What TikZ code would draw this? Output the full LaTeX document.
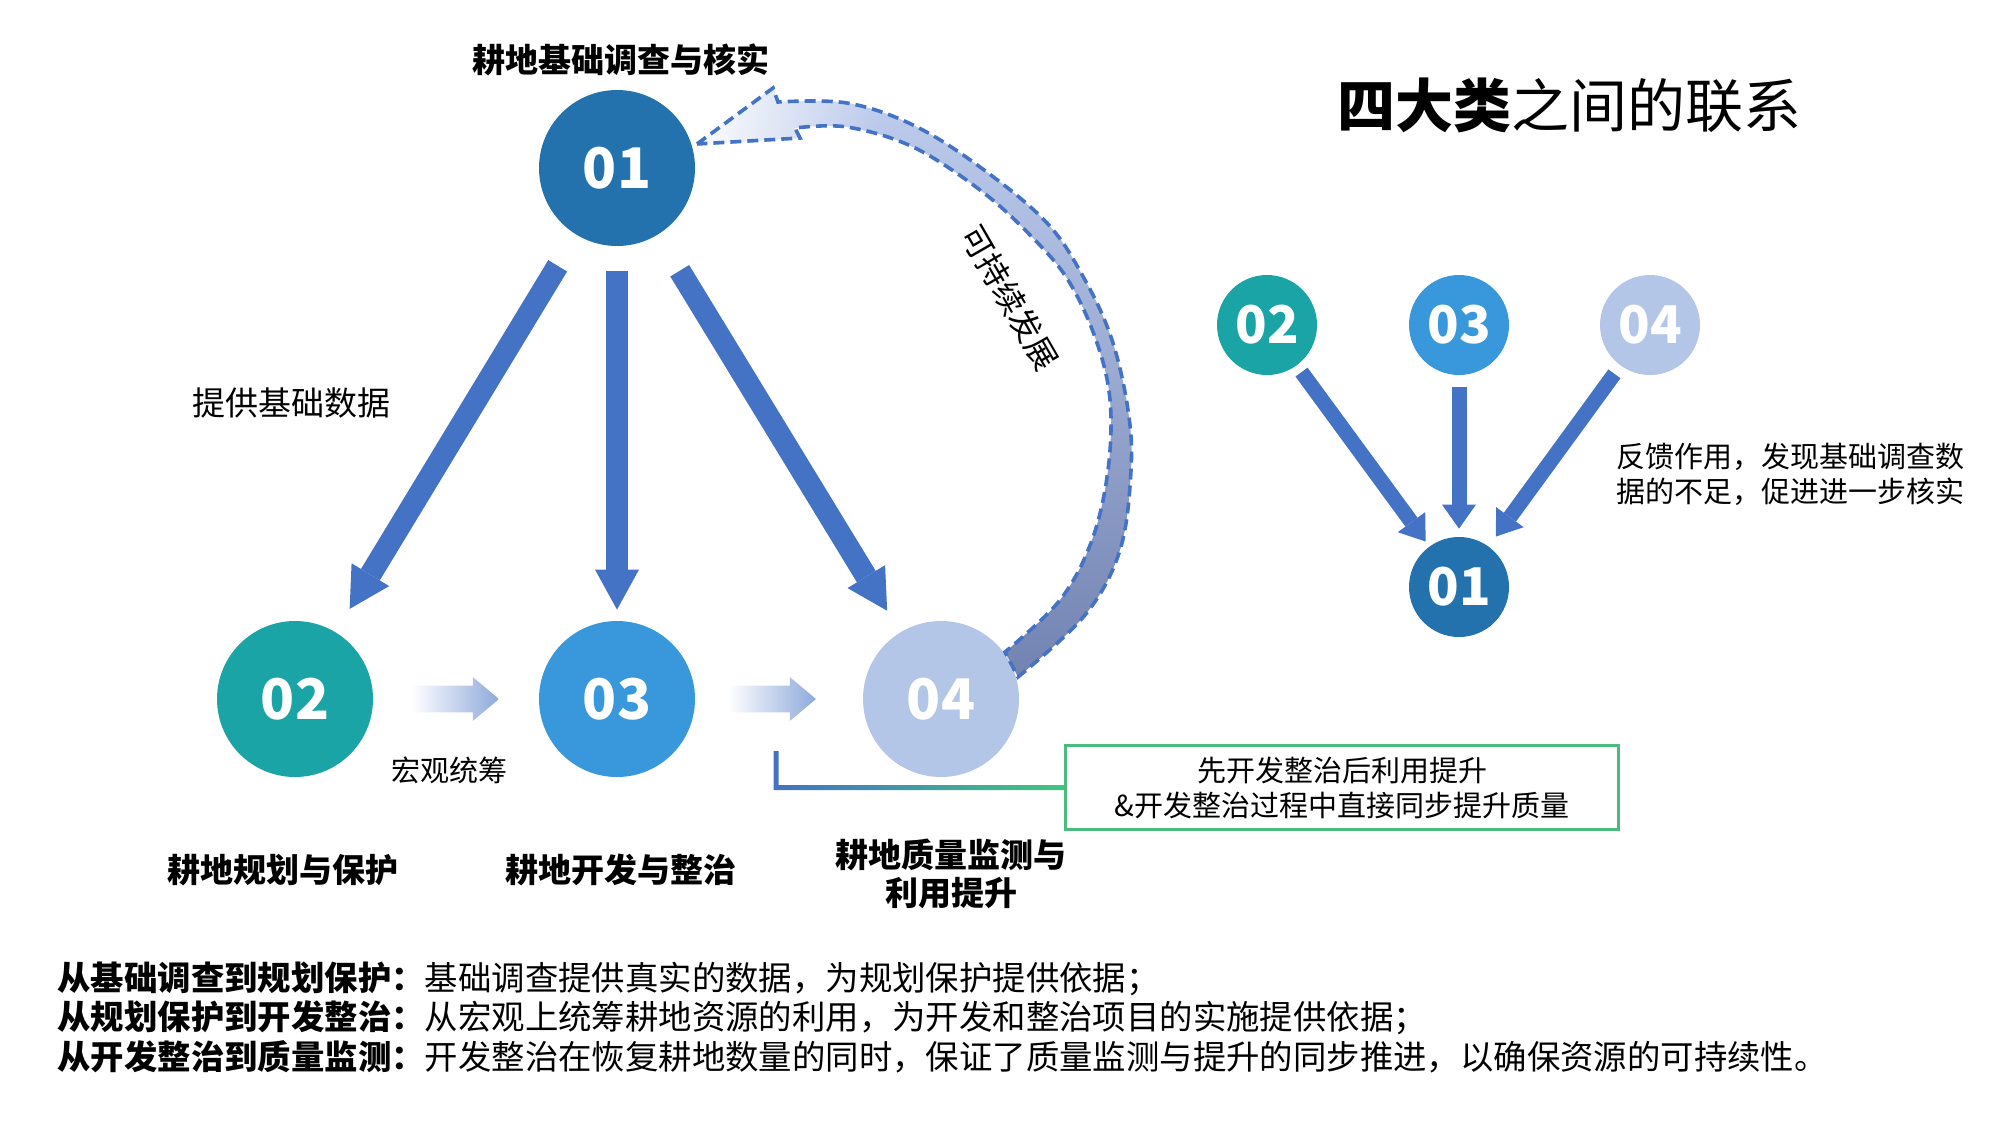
\documentclass[tikz,border=0pt]{standalone}
\usepackage{fontspec}
\setmainfont{Noto Sans CJK SC}
\usetikzlibrary{arrows.meta,positioning,calc,shapes.arrows,fadings}

\definecolor{cOne}{HTML}{2372AD}
\definecolor{cTwo}{HTML}{1BA4A5}
\definecolor{cThree}{HTML}{3898DB}
\definecolor{cFour}{HTML}{B4C6E7}
\definecolor{arrowblue}{HTML}{4472C4}
\definecolor{flowblue}{HTML}{8EA9DB}
\definecolor{notegreen}{HTML}{4DBA7F}
\definecolor{linkgreen}{HTML}{3FC681}
\definecolor{bandtop}{HTML}{BFCEEE}
\definecolor{bandmid}{HTML}{A2B5E0}
\definecolor{bandlow}{HTML}{7283B2}

% outline of the curved band from 04 back to 01
\newcommand{\bandoutline}{(697,144) -- (773,88) -- plot[smooth,tension=0.6]
    coordinates {(778,102) (847,103) (913,125) (980,167) (1047,223) (1085,280)
    (1112,340) (1128,410) (1131,470) (1120,550) (1085,615) (1018,677)}
    -- plot[smooth,tension=0.6] coordinates {(1005,652) (1060,600) (1092,540)
    (1108,470) (1110,400) (1096,340) (1068,280) (1030,235) (980,190) (913,147)
    (847,127) (795,128)} -- (800,138) -- cycle}

\begin{document}
\begin{tikzpicture}[x=0.5pt,y=-0.5pt,
    num/.style={circle,inner sep=0pt,minimum size=78pt,text=white,
        font=\bfseries\fontsize{28}{30}\selectfont},
    mininum/.style={circle,inner sep=0pt,minimum size=50pt,text=white,
        font=\bfseries\fontsize{26}{28}\selectfont},
    bigarrow/.style={draw=arrowblue,line width=11pt,
        -{Triangle[length=20pt,width=22pt,line width=0pt]}},
    smallarrow/.style={draw=arrowblue,line width=7.5pt,
        -{Triangle[length=12pt,width=17pt,line width=0pt]}},
    flowarrow/.style={single arrow,inner xsep=0pt,inner ysep=6.5pt,
        minimum height=44pt,single arrow head extend=4.25pt,
        single arrow tip angle=80,left color=white,right color=flowblue},
    caption/.style={font=\bfseries\fontsize{16.5}{19}\selectfont,align=center},
    plain/.style={font=\fontsize{14.5}{17.5}\selectfont}]
    \useasboundingbox (0,0) rectangle (2000,1124);

    % main circles
    \node[num,fill=cOne] (c01) at (617,168) {01};
    \node[num,fill=cTwo] (c02) at (295,699) {02};
    \node[num,fill=cThree] (c03) at (617,699) {03};
    \node[num,fill=cFour] (c04) at (941,699) {04};

    \node[caption] (t01) at (621,60) {耕地基础调查与核实};
    \node[caption] (t02) at (283,870) {耕地规划与保护};
    \node[caption] (t03) at (621,870) {耕地开发与整治};
    \node[caption] (t04) at (951,874) {耕地质量监测与\\利用提升};

    % from 01 down to the others
    \draw[bigarrow,shorten <=18pt,shorten >=13.5pt] (c01) -- (c02);
    \draw[bigarrow,shorten <=12.5pt,shorten >=5.5pt] (c01) -- (c03);
    \draw[bigarrow,shorten <=21pt,shorten >=12.5pt] (c01) -- (c04);
    \node[font=\fontsize{16.5}{19}\selectfont] (data) at (291,403) {提供基础数据};

    % flow 02 -> 03 -> 04
    \node[flowarrow] (f23) at ($(c02)!0.5!(c03)+(-9,0)$) {};
    \node[flowarrow] (f34) at (764,699) {};
    \node[plain] (macro) at (449,770) {宏观统筹};

    % curved feedback band 04 -> 01
    \shade[top color=bandtop,middle color=bandmid,bottom color=bandlow] \bandoutline;
    \begin{scope}
        \clip \bandoutline;
        \fill[white,path fading=east] (690,80) rectangle (880,150);
    \end{scope}
    \draw[arrowblue,line width=1.8pt,dash pattern=on 5.5pt off 3pt] \bandoutline;
    \node[rotate=-60,font=\fontsize{16}{18}\selectfont] (sus) at (1010,298) {可持续发展};

    % note box and its link
    \node[draw=notegreen,line width=1pt,minimum width=276pt,minimum height=41.5pt,
        align=center,plain] (note) at (1342,787.5)
        {先开发整治后利用提升\\\&开发整治过程中直接同步提升质量};
    \coordinate (lk) at (776,751);
    \shade[left color=arrowblue,right color=linkgreen]
        ($(lk)+(-2.5,0)$) |- ($(note.west)+(0,2.5)$) -- ($(note.west)+(0,-2.5)$)
        -| ($(lk)+(2.5,0)$) -- cycle;
    \draw[notegreen,line width=1pt] (note.north west) rectangle (note.south east);

    % right part
    \node[font=\fontsize{29}{32}\selectfont] (title) at (1569,105) {\textbf{四大类}之间的联系};
    \node[mininum,fill=cTwo] (m02) at (1267,325) {02};
    \node[mininum,fill=cThree] (m03) at (1459,325) {03};
    \node[mininum,fill=cFour] (m04) at (1650,325) {04};
    \node[mininum,fill=cOne] (m01) at (1459,587) {01};
    \draw[smallarrow,shorten <=4pt,shorten >=3pt] (m02) -- (m01);
    \draw[smallarrow,shorten <=6pt,shorten >=4pt] (m03) -- (m01);
    \draw[smallarrow,shorten <=5pt,shorten >=6pt] (m04) -- (m01);
    \node[plain,align=left,anchor=west,inner sep=0pt] (feed) at (1616,474.5)
        {反馈作用，发现基础调查数\\据的不足，促进进一步核实};

    % summary lines
    \node[align=left,anchor=west,inner sep=0pt,font=\fontsize{16.7}{19.75}\selectfont]
        (sum) at (57,1017)
        {\textbf{从基础调查到规划保护：}基础调查提供真实的数据，为规划保护提供依据；\\
         \textbf{从规划保护到开发整治：}从宏观上统筹耕地资源的利用，为开发和整治项目的实施提供依据；\\
         \textbf{从开发整治到质量监测：}开发整治在恢复耕地数量的同时，保证了质量监测与提升的同步推进，以确保资源的可持续性。};
\end{tikzpicture}
\end{document}
